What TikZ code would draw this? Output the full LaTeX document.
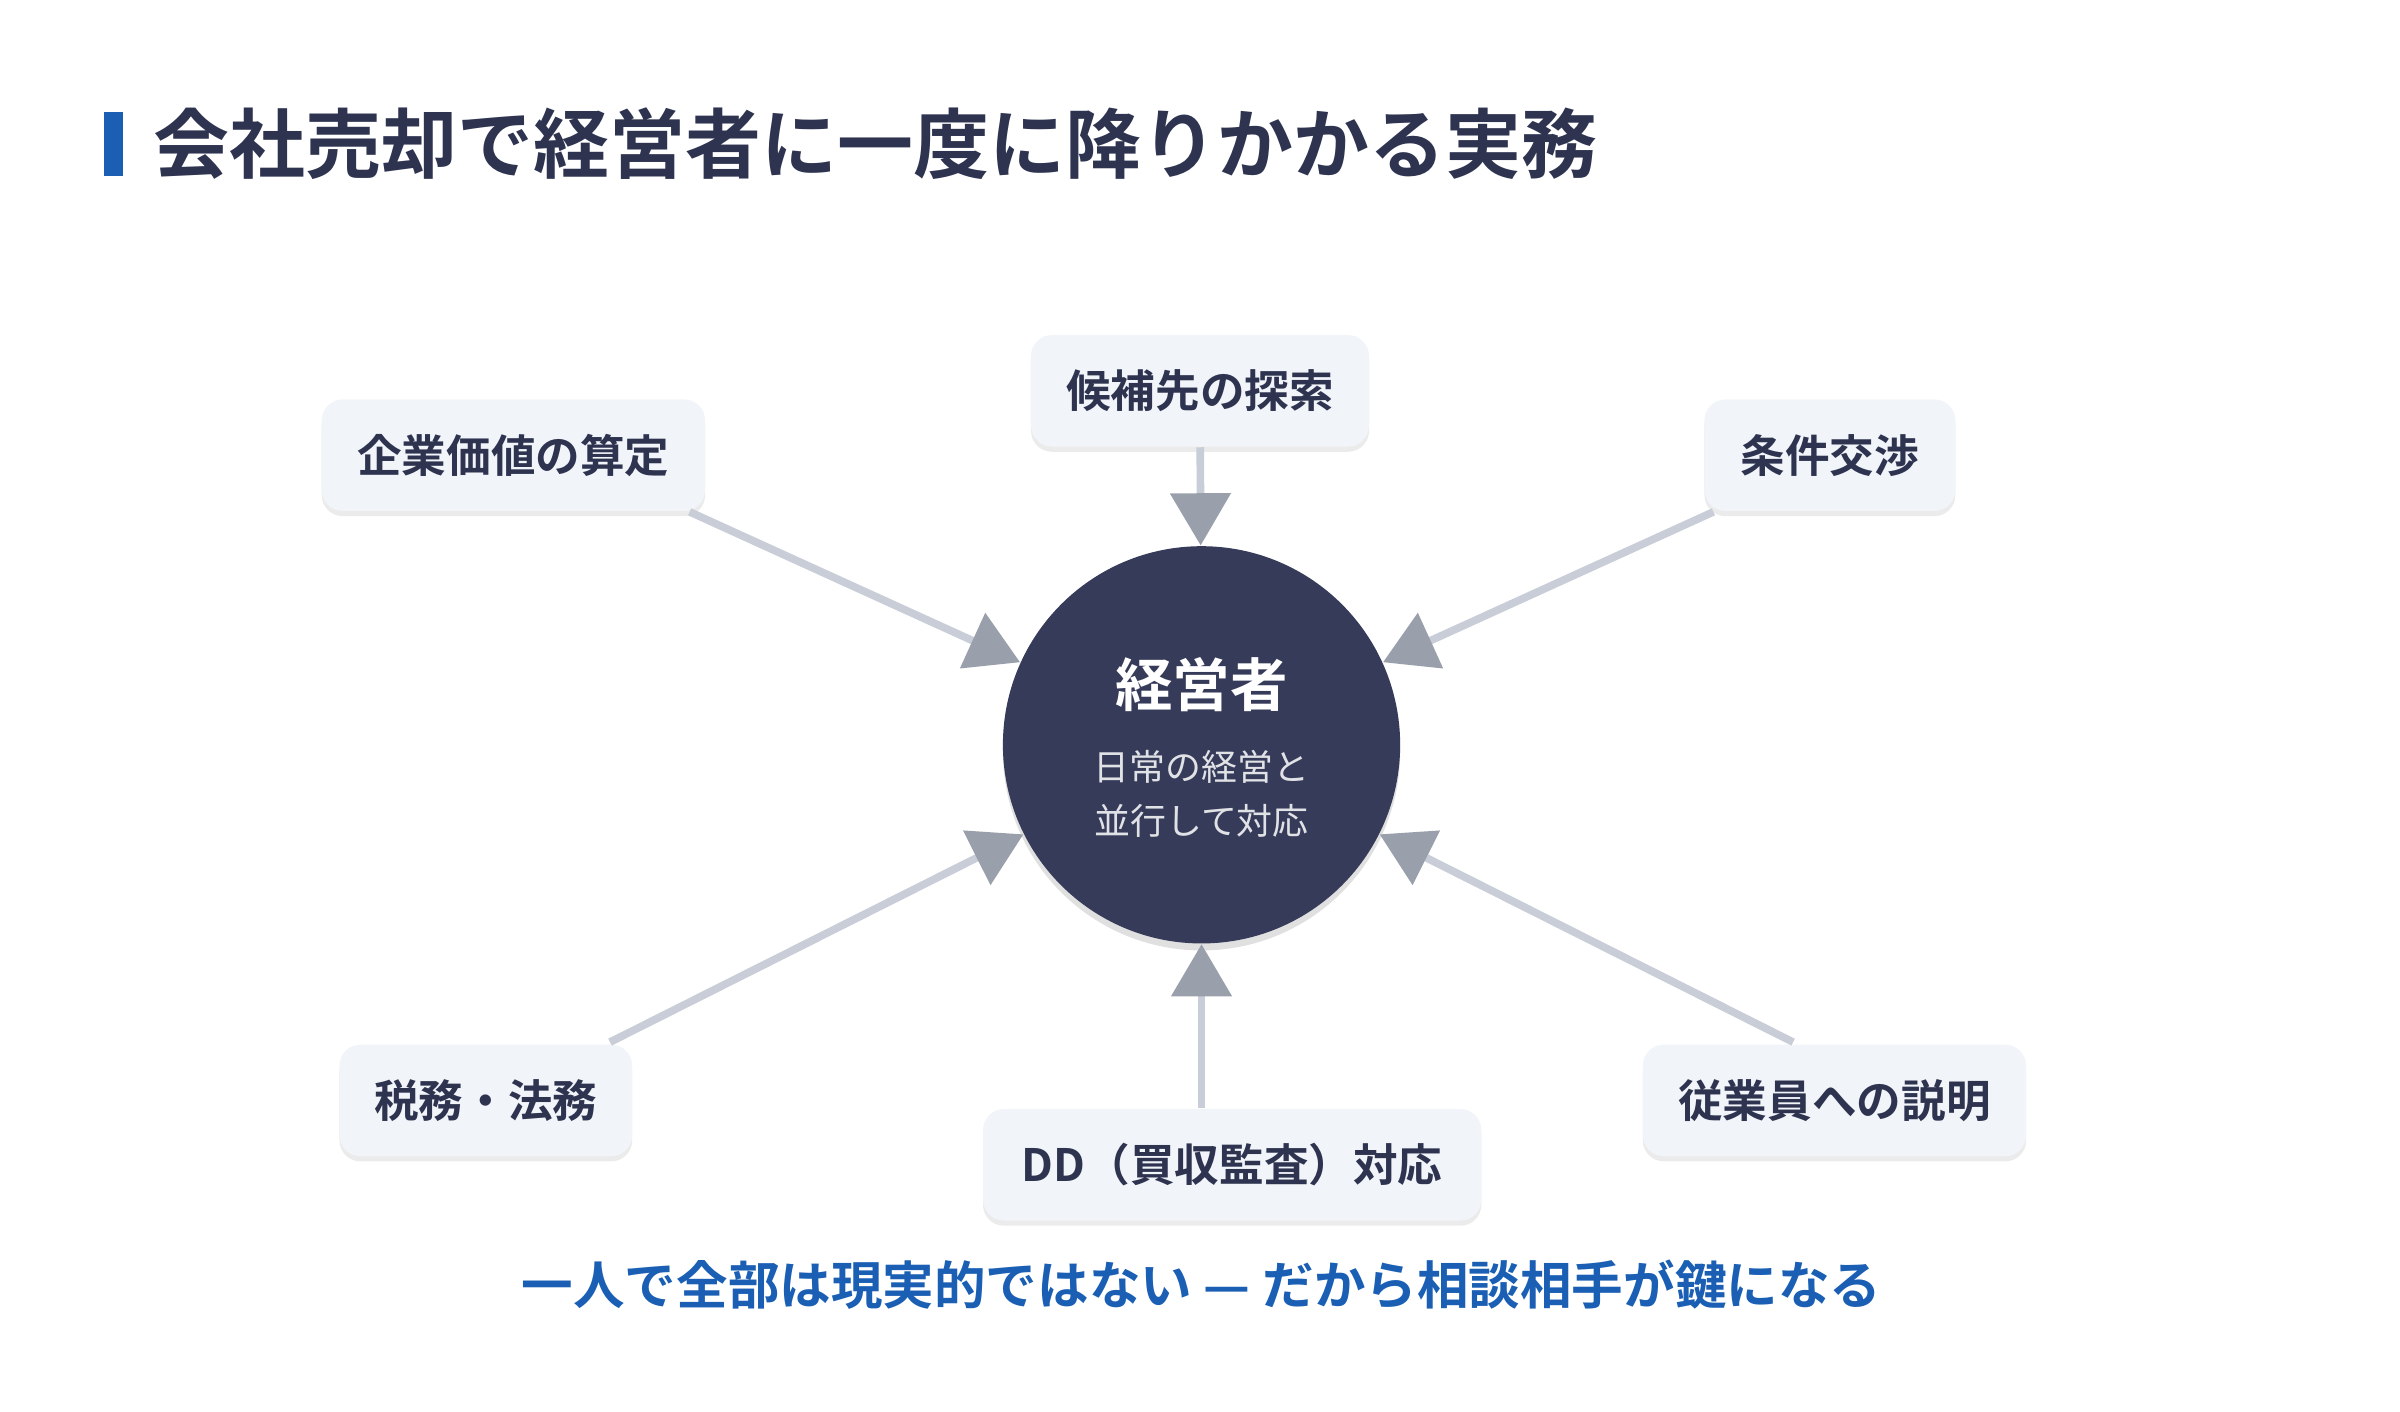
\documentclass[tikz,border=0pt]{standalone}
\usepackage{fontspec}
\setmainfont{Noto Sans CJK JP}[BoldFont={Noto Sans CJK JP Bold}]
\usetikzlibrary{arrows.meta,shadows}
\definecolor{navy}{HTML}{2E3350}
\definecolor{hubfill}{HTML}{363B5A}
\definecolor{boxfill}{HTML}{F1F4F8}
\definecolor{linegray}{HTML}{C8CDD8}
\definecolor{tipgray}{HTML}{9AA0AB}
\definecolor{accent}{HTML}{1A5FB4}
\tikzset{
  task/.style={fill=boxfill, rounded corners=6pt, minimum height=32pt, inner sep=0pt,
    font=\fontsize{12.8}{14}\selectfont\bfseries, text=navy,
    drop shadow={shadow xshift=0pt, shadow yshift=-1.5pt, opacity=0.08, fill=black}},
  feed/.style={draw=linegray, line width=2.2pt,
    -{Triangle[length=15pt,width=17pt,color=tipgray]}}
}
\begin{document}
\begin{tikzpicture}[x=0.01546cm,y=-0.01546cm]
  \useasboundingbox (0,0) rectangle (1566,921);

  % title
  \fill[accent] (68,73) rectangle (80,115);
  \node[anchor=west, inner sep=0pt, text=navy, font=\fontsize{21.8}{24}\selectfont\bfseries] (title) at (100,94) {会社売却で経営者に一度に降りかかる実務};

  % hub
  \node[circle, fill=hubfill, minimum size=114pt, inner sep=0pt,
    drop shadow={shadow xshift=0pt, shadow yshift=-2pt, opacity=0.12, fill=black}] (hub) at (784,486) {};
  \node[text=white, font=\fontsize{16.5}{18}\selectfont\bfseries] (hubname) at (784,447) {経営者};
  \node[text=white!85!hubfill, font=\fontsize{10.3}{15.5}\selectfont, align=center] (hubnote) at (784,518) {日常の経営と\\並行して対応};

  % tasks
  \node[task, minimum width=97pt] (search) at (783,255) {候補先の探索};
  \node[task, minimum width=110pt] (value) at (335,297) {企業価値の算定};
  \node[task, minimum width=72pt] (terms) at (1194,297) {条件交渉};
  \node[task, minimum width=84pt] (legal) at (317,718) {税務・法務};
  \node[task, minimum width=143pt] (dd) at (804,760) {DD（買収監査）対応};
  \node[task, minimum width=110pt] (staff) at (1197,718) {従業員への説明};

  % arrows into hub
  \coordinate (valuefoot) at (450,334);
  \coordinate (termsfoot) at (1118,334);
  \coordinate (legalfoot) at (398,680);
  \coordinate (ddfoot) at (784,723);
  \coordinate (stafffoot) at (1170,680);
  \draw[feed] (search) -- (hub);
  \draw[feed] (valuefoot) -- (hub);
  \draw[feed] (termsfoot) -- (hub);
  \draw[feed] (legalfoot) -- (hub);
  \draw[feed] (ddfoot) -- (hub);
  \draw[feed] (stafffoot) -- (hub);

  % closing line
  \node[text=accent, font=\fontsize{14.8}{17}\selectfont\bfseries] (moral) at (784,838) {一人で全部は現実的ではない — だから相談相手が鍵になる};
\end{tikzpicture}
\end{document}
